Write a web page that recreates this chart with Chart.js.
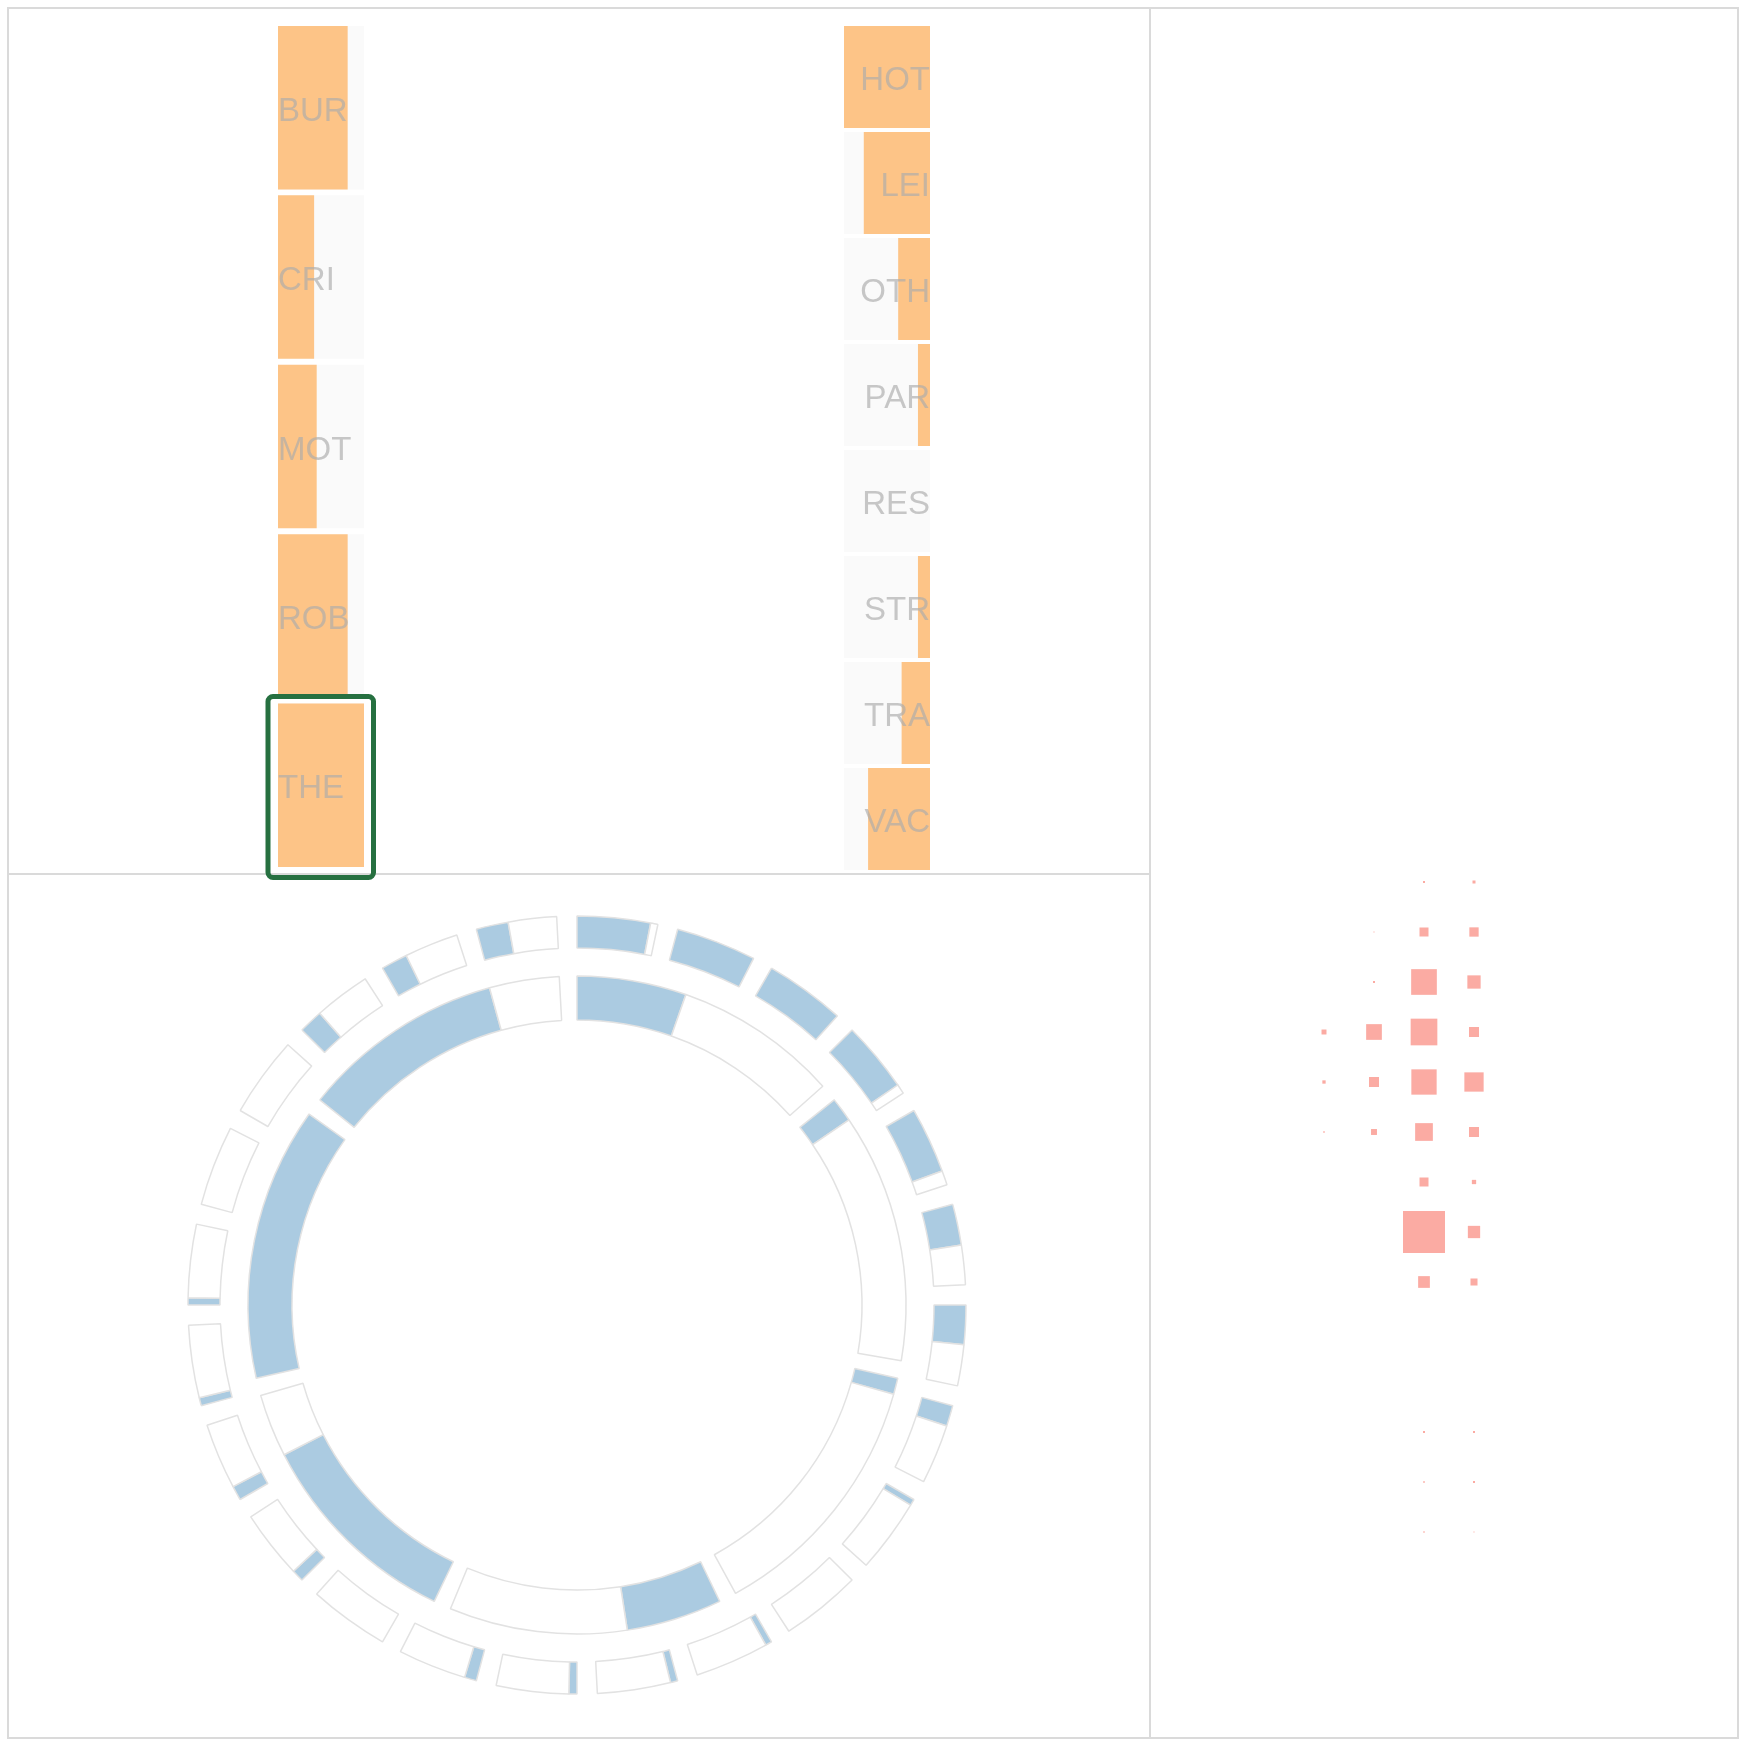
<!DOCTYPE html>
<html>
<head>
<meta charset="utf-8">
<script src="https://cdn.jsdelivr.net/npm/chart.js@4.4.1/dist/chart.umd.min.js"></script>
<style>
html,body{margin:0;padding:0;background:#fff;}
body{width:1746px;height:1746px;position:relative;overflow:hidden;font-family:"Liberation Sans",Arial,Helvetica,sans-serif;}
.frame{position:absolute;left:7px;top:7px;width:1728px;height:1728px;border:2px solid #dadada;}
.vline{position:absolute;left:1149px;top:9px;width:2px;height:1728px;background:#dadada;}
.hline{position:absolute;left:9px;top:873px;width:1140px;height:2px;background:#dadada;}
canvas{position:absolute;}
</style>
</head>
<body>
<div class="frame"></div>
<div class="vline"></div>
<div class="hline"></div>
<canvas id="typeChart" width="146" height="873" style="left:248px;top:13px;"></canvas>
<canvas id="locChart" width="146" height="862" style="left:814px;top:14px;"></canvas>
<canvas id="ringChart" width="800" height="800" style="left:177px;top:905px;"></canvas>
<canvas id="gridChart" width="200" height="700" style="left:1299px;top:857px;"></canvas>
<script>
// ---------- data ----------
const typeLabels = ['BUR', 'CRI', 'MOT', 'ROB', 'THE'];
const typeValues = [81, 42, 45, 81, 100];
const typeMax = 100;
const selectedType = 'THE';

const locationLabels = ['HOT', 'LEI', 'OTH', 'PAR', 'RES', 'STR', 'TRA', 'VAC'];
const locationValues = [100, 77, 37, 14, 0, 14, 33, 72];
const locationMax = 100;

const dayLabels = ['Mon', 'Tue', 'Wed', 'Thu', 'Fri', 'Sat', 'Sun'];
const dayShare = [0.40, 0.09, 0.06, 0.35, 0.77, 1.00, 0.745];

const hourLabels = ['00','01','02','03','04','05','06','07','08','09','10','11',
                    '12','13','14','15','16','17','18','19','20','21','22','23'];
const hourShare = [0.91, 1.00, 1.00, 0.88, 0.82, 0.51, 0.49, 0.26, 0.08, 0, 0.08, 0.09,
                   0.10, 0.15, 0, 0.15, 0.18, 0.10, 0.09, 0, 0, 0.30, 0.33, 0.40];

const gridColumns = ['A', 'B', 'C', 'D'];
const gridRows = [0, 1, 2, 3, 4, 5, 6, 7, 8, 9, 10, 11, 12, 13];
const gridColA = [0, 0, 0, 1.4, 0.62, 0.13, 0, 0, 0, 0, 0, 0, 0, 0];
const gridColB = [0, 0.06, 0.23, 14, 5.7, 2.0, 0, 0, 0, 0, 0, 0, 0, 0];
const gridColC = [0.23, 4.6, 37.4, 40.4, 36.3, 17.8, 4.6, 100, 7.8, 0, 0, 0.23, 0.16, 0.1];
const gridColD = [0.51, 4.9, 10, 5.7, 21.1, 5.7, 1.05, 8.6, 2.8, 0, 0, 0.23, 0.23, 0.06];

// ---------- styles ----------
const ORANGE = '#fdc487';
const TRACK = '#fafafa';
const BLUE = '#abcbe1';
const OUTLINE = '#e2e2e2';
const SALMON = '#fbaba3';
const LABEL_FONT = '33px "Liberation Sans", Arial, Helvetica, sans-serif';
const LABEL_COLOR = 'rgba(172,172,172,0.66)';

Chart.defaults.animation = false;
Chart.defaults.events = [];
Chart.defaults.plugins.legend.display = false;
Chart.defaults.plugins.tooltip.enabled = false;

const rowLabelPlugin = {
  id: 'rowLabels',
  afterDatasetsDraw(chart, args, opts) {
    const {ctx, chartArea} = chart;
    const yScale = chart.scales.y;
    ctx.save();
    ctx.font = opts.font;
    ctx.fillStyle = opts.color;
    ctx.textBaseline = 'middle';
    ctx.textAlign = opts.align;
    const x = opts.align === 'left' ? chartArea.left : chartArea.right;
    chart.data.labels.forEach((lab, i) => {
      ctx.fillText(lab, x, yScale.getPixelForValue(i) + 4);
    });
    ctx.restore();
  }
};

const highlightPlugin = {
  id: 'highlight',
  afterDraw(chart, args, opts) {
    if (!opts || !opts.label) return;
    const idx = chart.data.labels.indexOf(opts.label);
    if (idx < 0) return;
    const el = chart.getDatasetMeta(1).data[idx];
    const p = el.getProps(['x', 'y', 'base', 'height'], true);
    const left = Math.min(p.x, p.base) - 10;
    const right = Math.max(p.x, p.base) + 9.5;
    const top = p.y - p.height / 2 - 7;
    const bottom = p.y + p.height / 2 + 10.5;
    const r = 5;
    const ctx = chart.ctx;
    ctx.save();
    ctx.strokeStyle = opts.color;
    ctx.lineWidth = 5;
    ctx.beginPath();
    ctx.moveTo(left + r, top);
    ctx.lineTo(right - r, top);
    ctx.arcTo(right, top, right, top + r, r);
    ctx.lineTo(right, bottom - r);
    ctx.arcTo(right, bottom, right - r, bottom, r);
    ctx.lineTo(left + r, bottom);
    ctx.arcTo(left, bottom, left, bottom - r, r);
    ctx.lineTo(left, top + r);
    ctx.arcTo(left, top, left + r, top, r);
    ctx.closePath();
    ctx.stroke();
    ctx.restore();
  }
};

function rowChart(id, labels, values, max, reverse, align, barPct, padding, highlightLabel) {
  return new Chart(document.getElementById(id), {
    type: 'bar',
    data: {
      labels: labels,
      datasets: [
        {data: values, backgroundColor: ORANGE, grouped: false, barPercentage: barPct, categoryPercentage: 1, borderWidth: 0},
        {data: labels.map(() => max), backgroundColor: TRACK, grouped: false, barPercentage: barPct, categoryPercentage: 1, borderWidth: 0}
      ]
    },
    options: {
      indexAxis: 'y',
      responsive: false,
      devicePixelRatio: 1,
      layout: {padding: padding, autoPadding: false},
      scales: {
        x: {display: false, min: 0, max: max, reverse: reverse},
        y: {display: false}
      },
      plugins: {
        rowLabels: {font: LABEL_FONT, color: LABEL_COLOR, align: align},
        highlight: {label: highlightLabel, color: '#267040'}
      }
    },
    plugins: [rowLabelPlugin, highlightPlugin]
  });
}

rowChart('typeChart', typeLabels, typeValues, typeMax, false, 'left', 0.965,
         {left: 30, right: 30, top: 10, bottom: 16}, selectedType);
rowChart('locChart', locationLabels, locationValues, locationMax, true, 'right', 0.962,
         {left: 30, right: 30, top: 10, bottom: 4}, null);

// ---------- rings ----------
const HOUR_GAP = 0.25;   // gap slice, relative to one segment
const DAY_GAP = 0.064;
function ringData(shares, gap) {
  const d = [];
  shares.forEach(s => { d.push(s, 1 - s, gap); });
  return d;
}
function ringColors(shares) {
  const c = [];
  shares.forEach(() => { c.push(BLUE, '#ffffff', 'rgba(0,0,0,0)'); });
  return c;
}
function ringBorderColors(shares) {
  const c = [];
  shares.forEach(() => { c.push(OUTLINE, OUTLINE, 'rgba(0,0,0,0)'); });
  return c;
}
function ringBorderWidths(data) {
  return data.map((v, i) => (i % 3 === 2 || v <= 0) ? 0 : 1.5);
}
const hourData = ringData(hourShare, HOUR_GAP);
const dayData = ringData(dayShare, DAY_GAP);

new Chart(document.getElementById('ringChart'), {
  type: 'doughnut',
  data: {
    datasets: [
      {label: 'hours', data: hourData, backgroundColor: ringColors(hourShare),
       borderColor: ringBorderColors(hourShare), borderWidth: ringBorderWidths(hourData), weight: 32},
      {label: 'spacer', data: [1], backgroundColor: 'rgba(0,0,0,0)', borderWidth: 0, weight: 28},
      {label: 'days', data: dayData, backgroundColor: ringColors(dayShare),
       borderColor: ringBorderColors(dayShare), borderWidth: ringBorderWidths(dayData), weight: 44}
    ]
  },
  options: {
    responsive: false,
    devicePixelRatio: 1,
    radius: 389,
    cutout: (285 / 389 * 100) + '%',
    rotation: 0,
    layout: {padding: 0}
  }
});

// ---------- grid ----------
const gridCols = [gridColA, gridColB, gridColC, gridColD];
const SIDE_MAX = 42;
const points = [];
gridCols.forEach((col, ci) => {
  col.forEach((v, ri) => {
    if (v > 0) {
      const side = SIDE_MAX * Math.sqrt(v / 100);
      points.push({x: ci, y: gridRows[ri], r: side / Math.SQRT2});
    }
  });
});
new Chart(document.getElementById('gridChart'), {
  type: 'bubble',
  data: {
    datasets: [{data: points, backgroundColor: SALMON, borderWidth: 0, pointStyle: 'rect', clip: false}]
  },
  options: {
    responsive: false,
    devicePixelRatio: 1,
    layout: {padding: 0, autoPadding: false},
    scales: {
      x: {display: false, min: -0.5, max: gridColumns.length - 0.5},
      y: {display: false, min: -0.5, max: gridRows.length - 0.5, reverse: true}
    }
  }
});
</script>
</body>
</html>
